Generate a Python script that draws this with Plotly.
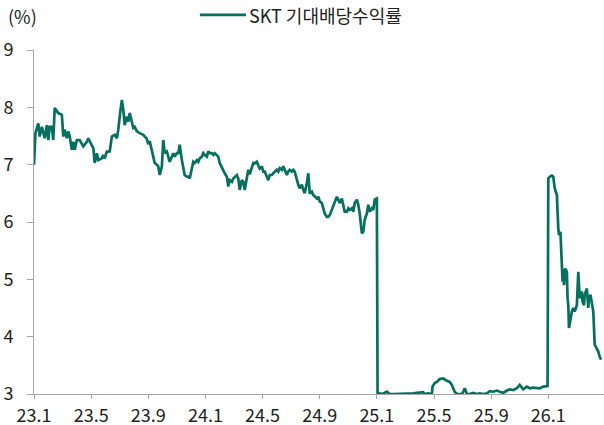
import plotly.graph_objects as go

# trading-day index (80 days per tick label) and expected dividend yield (%)
days = [0, 2, 6, 8, 11, 13, 15, 18, 20, 22, 25, 27, 29, 34, 39, 41, 43, 46, 48, 50,
        53, 55, 57, 60, 64, 69, 74, 76, 81, 83, 85, 88, 90, 95, 97, 99, 102, 106, 109, 113,
        116, 118, 120, 123, 125, 127, 130, 132, 134, 137, 139, 141, 144, 148, 153, 158, 160, 162, 165, 167,
        169, 172, 174, 176, 179, 181, 183, 186, 188, 190, 193, 195, 197, 200, 202, 204, 207, 209, 211, 214,
        216, 218, 221, 223, 225, 228, 230, 232, 235, 237, 239, 242, 244, 246, 249, 251, 253, 256, 258, 260,
        263, 265, 267, 270, 272, 274, 277, 279, 281, 284, 286, 288, 291, 293, 295, 298, 300, 302, 305, 307,
        309, 312, 314, 316, 319, 321, 323, 326, 328, 330, 333, 335, 337, 340, 342, 344, 347, 349, 351, 354,
        356, 358, 361, 363, 365, 368, 370, 372, 375, 377, 379, 382, 384, 386, 389, 391, 393, 396, 398, 400,
        403, 405, 407, 410, 412, 414, 417, 419, 421, 424, 426, 428, 431, 433, 435, 438, 440, 442, 445, 447,
        449, 452, 454, 456, 459, 461, 463, 466, 468, 470, 473, 475, 477, 480,
        481, 484, 488, 494, 496, 498, 503, 508, 512, 517, 522, 526, 531, 536, 540, 545, 547, 552, 557, 558,
        561, 564, 568, 573, 578, 582, 585, 587, 589, 592, 594, 599, 601, 603, 606, 610, 615, 620, 624, 629,
        634, 638, 643, 648, 652, 657, 662, 666, 671, 676, 680, 683, 685, 690, 694, 699, 704, 708, 713, 718, 719,
        720, 722, 725, 727, 729, 732, 734, 735, 737, 739, 740, 741, 742, 744, 746, 747, 748, 749, 751, 753,
        755, 757, 760, 762, 764, 767, 768, 770, 771, 774, 776, 777, 779, 781, 783, 785, 788, 790, 792, 794]

yield_pct = [7.00, 7.55, 7.72, 7.49, 7.66, 7.55, 7.46, 7.69, 7.43, 7.66, 7.66, 7.43, 7.99, 7.90, 7.87, 7.49, 7.61, 7.46, 7.58, 7.49,
             7.26, 7.40, 7.26, 7.43, 7.43, 7.32, 7.40, 7.46, 7.35, 7.29, 7.03, 7.20, 7.08, 7.11, 7.17, 7.11, 7.23, 7.23, 7.49, 7.52,
             7.46, 7.61, 7.84, 8.13, 7.96, 7.69, 7.84, 7.75, 7.90, 7.72, 7.64, 7.66, 7.58, 7.55, 7.52, 7.45, 7.36, 7.41, 7.26, 7.14,
             7.03, 7.00, 6.97, 6.82, 6.97, 7.43, 7.20, 7.23, 7.14, 7.05, 7.14, 7.20, 7.14, 7.20, 7.20, 7.35, 7.08, 6.94, 6.82, 6.79,
             6.79, 6.76, 6.97, 7.05, 7.03, 7.08, 7.05, 7.11, 7.14, 7.20, 7.17, 7.14, 7.23, 7.20, 7.20, 7.17, 7.20, 7.17, 7.14, 7.03,
             6.94, 6.91, 6.85, 6.79, 6.62, 6.73, 6.70, 6.76, 6.79, 6.82, 6.76, 6.56, 6.73, 6.70, 6.56, 6.76, 6.91, 6.83, 6.94, 7.03,
             7.02, 7.05, 6.98, 6.93, 6.97, 6.88, 6.88, 6.79, 6.73, 6.82, 6.82, 6.85, 6.88, 6.91, 6.88, 6.94, 6.91, 6.97, 6.91, 6.82,
             6.88, 6.91, 6.88, 6.91, 6.88, 6.73, 6.65, 6.59, 6.65, 6.56, 6.50, 6.68, 6.85, 6.50, 6.53, 6.47, 6.44, 6.41, 6.44, 6.36,
             6.33, 6.21, 6.15, 6.09, 6.09, 6.12, 6.21, 6.30, 6.36, 6.44, 6.39, 6.33, 6.41, 6.30, 6.18, 6.18, 6.24, 6.21, 6.24, 6.18,
             6.33, 6.39, 6.30, 6.15, 5.80, 5.83, 6.04, 6.15, 6.30, 6.18, 6.24, 6.21, 6.39, 6.41,
             3.00, 3.01, 3.00, 3.04, 3.02, 3.00, 3.00, 3.00, 3.01, 3.00, 3.01, 3.00, 3.01, 3.02, 3.03, 3.03, 3.00, 3.01, 3.00, 3.13,
             3.19, 3.21, 3.26, 3.27, 3.23, 3.21, 3.16, 3.10, 3.04, 3.00, 3.00, 3.00, 3.04, 3.10, 3.00, 3.00, 3.02, 3.00, 3.01, 3.00,
             3.01, 3.05, 3.04, 3.06, 3.04, 3.02, 3.06, 3.08, 3.07, 3.10, 3.16, 3.11, 3.08, 3.13, 3.10, 3.11, 3.11, 3.10, 3.13, 3.13, 3.14,
             6.76, 6.79, 6.81, 6.79, 6.59, 6.47, 5.89, 5.77, 5.83, 5.19, 4.96, 5.19, 4.90, 5.19, 5.13, 4.67, 4.55, 4.15, 4.32, 4.44,
             4.50, 4.44, 4.55, 5.13, 4.67, 4.79, 4.61, 4.55, 4.73, 4.84, 4.50, 4.67, 4.73, 4.55, 4.44, 3.86, 3.80, 3.74, 3.65, 3.60]

tick_days = [0, 80, 160, 240, 320, 400, 480, 560, 640, 720]
tick_labels = ["23.1", "23.5", "23.9", "24.1", "24.5", "24.9", "25.1", "25.5", "25.9", "26.1"]
y_ticks = [3, 4, 5, 6, 7, 8, 9]
series_name = "SKT 기대배당수익률"

FONT = "Noto Sans CJK KR"
LINE_COLOR = "#06705f"
AXIS_COLOR = "#a6a6a6"
TEXT_COLOR = "#222222"
FS = 18

fig = go.Figure()
fig.add_trace(go.Scatter(
    x=days, y=yield_pct, mode="lines", name=series_name,
    line=dict(color=LINE_COLOR, width=2.7),
    cliponaxis=False, showlegend=False,
))

fig.update_layout(
    width=604, height=425,
    margin=dict(l=34, r=0, t=50, b=31, autoexpand=False),
    paper_bgcolor="white", plot_bgcolor="white",
    font=dict(family=FONT, size=FS, color=TEXT_COLOR),
    showlegend=False,
    xaxis=dict(range=[0, 798], tickmode="array", tickvals=tick_days, ticktext=tick_labels,
               showgrid=False, zeroline=False, showline=True, linecolor=AXIS_COLOR, linewidth=1,
               ticks="outside", ticklen=4, tickcolor=AXIS_COLOR, tickfont=dict(size=FS),
               ticklabelstandoff=1, automargin=False),
    yaxis=dict(range=[3, 9], tickmode="array", tickvals=y_ticks,
               showgrid=False, zeroline=False, showline=True, linecolor=AXIS_COLOR, linewidth=1,
               ticks="outside", ticklen=6, tickcolor=AXIS_COLOR, tickfont=dict(size=FS),
               ticklabelstandoff=10, automargin=False),
    shapes=[dict(type="line", xref="paper", yref="paper", x0=0.291, x1=0.372, y0=1.102, y1=1.102,
                 line=dict(color=LINE_COLOR, width=2.7))],
    annotations=[
        dict(text="(%)", xref="paper", yref="paper", x=-0.049, y=1.10,
             xanchor="left", yanchor="middle", showarrow=False,
             font=dict(size=FS, color=TEXT_COLOR)),
        dict(text=series_name, xref="paper", yref="paper", x=0.374, y=1.102,
             xanchor="left", yanchor="middle", showarrow=False,
             font=dict(size=FS, color=TEXT_COLOR)),
    ],
)

fig.write_html("out.html", config={"displayModeBar": False},
               post_script="document.body.style.margin='0px';")
